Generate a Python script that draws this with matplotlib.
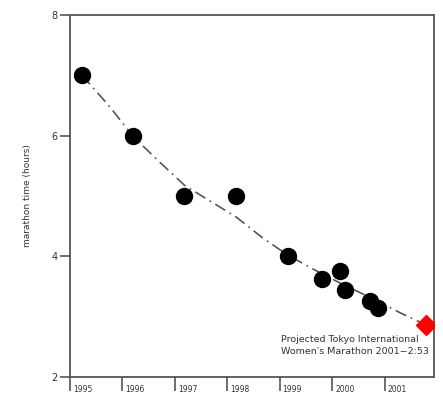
import numpy as np
import matplotlib.pyplot as plt
from matplotlib.transforms import ScaledTranslation

# race results (year as decimal, time in hours)
years = [1995.23, 1996.20, 1997.18, 1998.17, 1999.15, 1999.80, 2000.14, 2000.24, 2000.72, 2000.87]
times = [7.0, 6.0, 5.0, 5.0, 4.0, 3.62, 3.76, 3.44, 3.26, 3.14]

# projected race
proj_year = 2001.79
proj_time = 2.86

# trend curve
fit_years = [1995.23, 1995.75, 1996.20, 1996.70, 1997.18, 1997.70, 1998.17, 1998.65,
             1999.15, 1999.65, 2000.14, 2000.50, 2000.81, 2001.30, 2001.79]
fit_times = [7.0, 6.49, 5.99, 5.57, 5.18, 4.90, 4.65, 4.32,
             4.02, 3.78, 3.56, 3.41, 3.28, 3.06, 2.86]

year_ticks = [1995, 1996, 1997, 1998, 1999, 2000, 2001]
time_ticks = [2, 4, 6, 8]

grey = '#555555'

fig = plt.figure(figsize=(4.43, 3.98), dpi=100)
ax = fig.add_axes([0.158, 0.053, 0.822, 0.909])

ax.plot(fit_years, fit_times, color=grey, linestyle=(0, (7, 3, 1, 3)), linewidth=1.2, zorder=1)
ax.plot(years, times, 'o', color='black', markersize=11.5, zorder=2)
ax.plot([proj_year], [proj_time], 'D', color='red', markersize=10, zorder=3)

ax.text(1999.03, 2.52, "Projected Tokyo International\nWomen's Marathon 2001\u22122:53",
        ha='left', va='center', fontsize=6.8, color='#333333', linespacing=1.45)

ax.set_xlim(1995, 2001.94)
ax.set_ylim(2, 8)
ax.set_xticks(year_ticks)
ax.set_xticklabels([str(y) for y in year_ticks])
ax.set_yticks(time_ticks)
ax.set_ylabel('marathon time (hours)', fontsize=6.5, color='#333333', labelpad=14)

for s in ax.spines.values():
    s.set_color(grey)
    s.set_linewidth(1.3)

ax.tick_params(axis='x', direction='out', length=10, width=1.2, color=grey,
               labelsize=5.5, labelcolor='#333333', pad=-4)
ax.tick_params(axis='y', direction='out', length=7, width=1.2, color=grey,
               labelsize=7, labelcolor='#333333', pad=2)

# year labels sit to the right of their tick
offset = ScaledTranslation(2 / 72, 0, fig.dpi_scale_trans)
for lab in ax.get_xticklabels():
    lab.set_horizontalalignment('left')
    lab.set_transform(lab.get_transform() + offset)

fig.savefig('out.png', dpi=100)
